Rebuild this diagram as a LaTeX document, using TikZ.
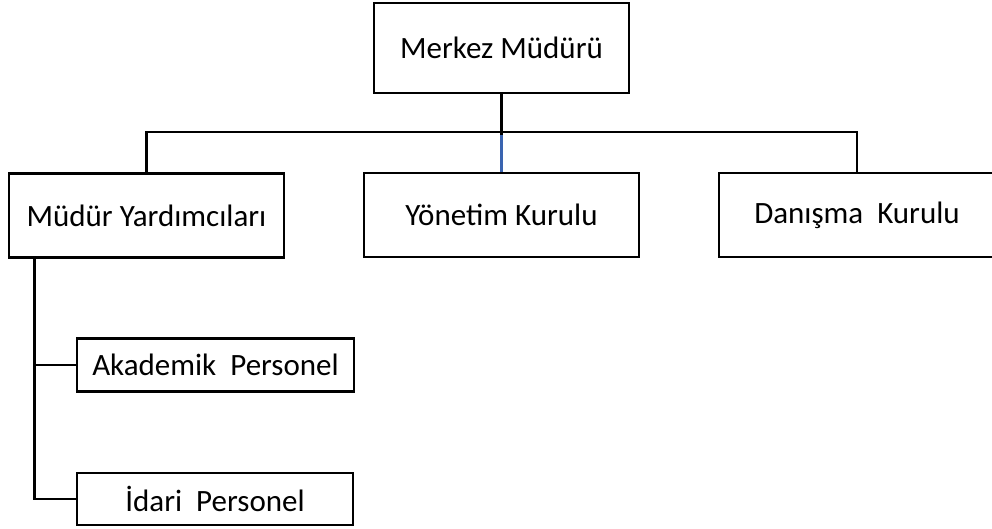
\documentclass[tikz,border=0pt]{standalone}
\usepackage{fontspec}
\setmainfont{Carlito}
\usepackage{xcolor}
\usepackage{tikz}
\usetikzlibrary{positioning,calc}

\definecolor{linkblue}{RGB}{58,100,176}

\begin{document}
\begin{tikzpicture}[x=1pt,y=-1pt,
                          unit/.style={draw, black, line width=2.8pt, fill=white, inner sep=0pt,
                                       font=\fontsize{31}{36}\selectfont},
                          wide/.style={unit, minimum width=275pt, minimum height=84pt},
                          flat/.style={unit, minimum width=277pt, minimum height=53pt},
                          mysolid/.style={line width=2.8pt, black},
                          myblue/.style={line width=2.2pt, linkblue},
                         ]

\useasboundingbox (0,0) rectangle (992,529);

\node[unit, minimum width=255pt, minimum height=90pt] (merkez) at (501.5,48) {Merkez Müdürü};

\node[wide] (yard)    at (146.5,215.5) {Müdür Yardımcıları};
\node[wide] (yonetim) at (501.5,215)   {Yönetim Kurulu};
\node[wide, minimum width=276pt] (danisma) at (857,215) {Danışma~ Kurulu};

\node[flat] (akademik) at (215.5,365) {Akademik~ Personel};
\node[flat, minimum height=52pt, minimum width=276pt] (idari) at (215,499) {İdari~ Personel\hspace{14pt}};

% connectors
\draw[mysolid] (merkez.south) -- ++(0,41) coordinate (bus);
\draw[mysolid] (yard.north) -- ++(0,-40) -| (danisma.north);
\draw[myblue] (bus) -- (yonetim.north);

\coordinate (trunk) at ($(yard.south west)+(27,0)$);
\draw[mysolid] (trunk) |- (akademik.west);
\draw[mysolid] (trunk) |- (idari.west);

\end{tikzpicture}
\end{document}
